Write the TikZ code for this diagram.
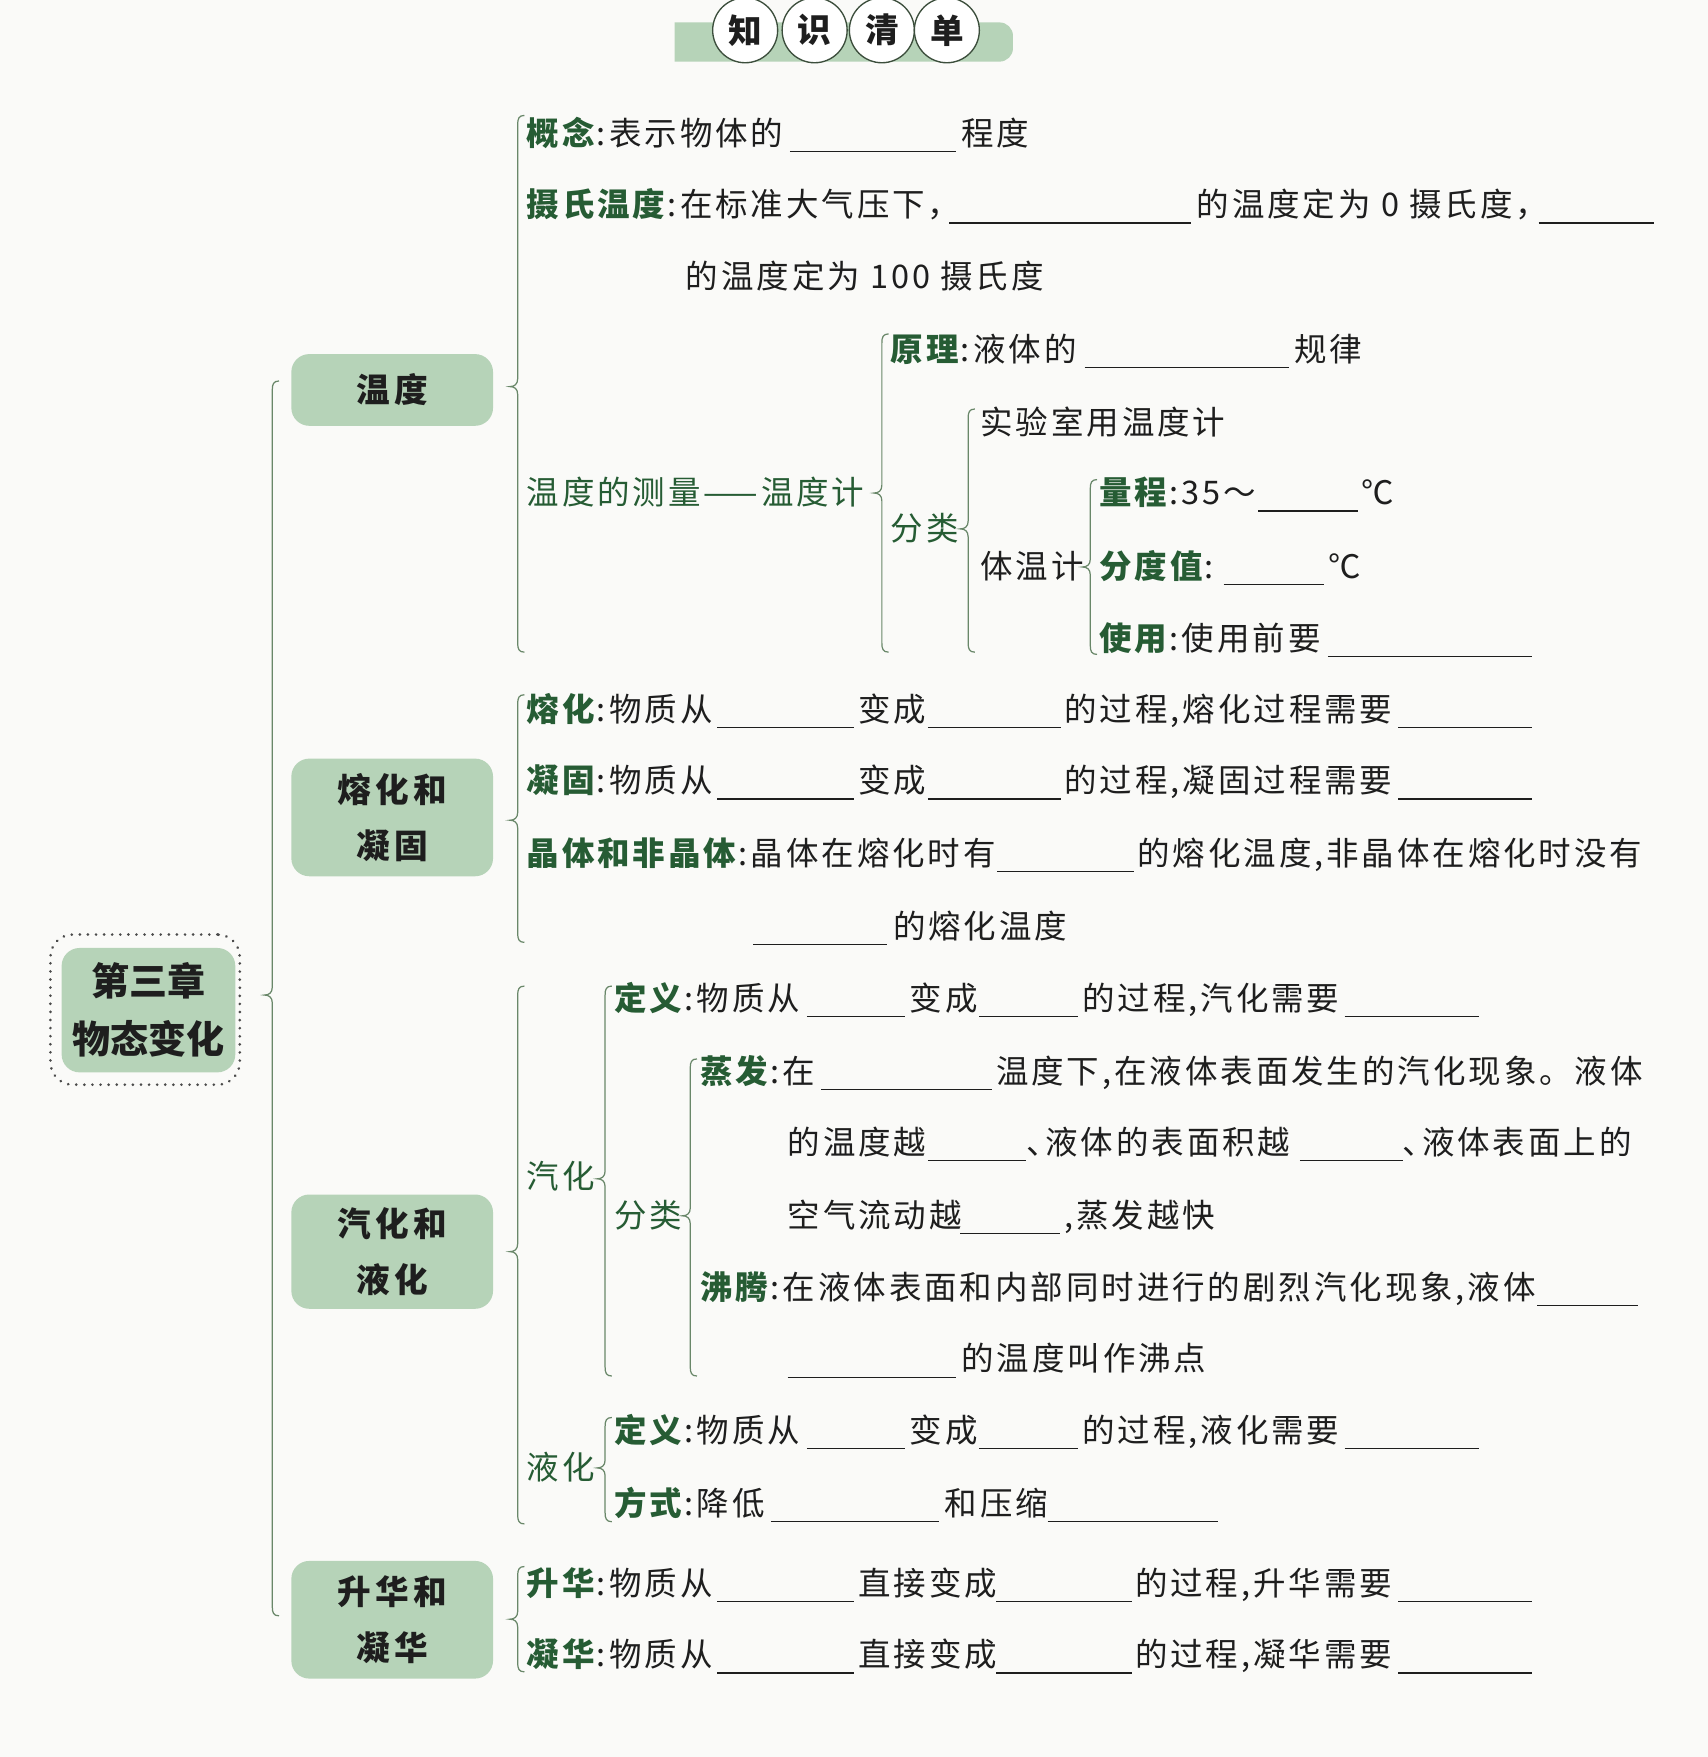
\documentclass[tikz,border=0pt]{standalone}
\usepackage{fontspec}
\newfontfamily\song{Noto Sans CJK SC}[LetterSpace=9]
\newfontfamily\songbx{Noto Sans CJK SC}[LetterSpace=12]
\newfontfamily\hei{Noto Sans CJK SC}[LetterSpace=9]
\newfontfamily\heiplain{Noto Sans CJK SC}
\definecolor{bgc}{RGB}{250,250,248}
\definecolor{boxg}{RGB}{182,211,184}
\definecolor{labg}{RGB}{38,92,52}
\definecolor{brc}{RGB}{105,135,105}
\definecolor{ink}{RGB}{30,30,30}
\definecolor{circd}{RGB}{60,78,60}
\newcommand\mlab[1]{{\hei\bfseries\color{labg}#1}\hspace{1pt}:\hspace{1.5pt}}
\newcommand\mglb[1]{{\hei\color{labg}#1}}
\newcommand\mtx[4]{\node[txt] (#1) at (#2,#3+10.5) {#4};}
\newcommand\mbk[3]{\draw[blankln] (#1,#3+16) -- (#2,#3+16);}
\newcommand\mbrace[4]{\draw[bracel] (#1+6,#2) .. controls (#1+1,#2) and (#1,#2+3) .. (#1,#2+8) -- (#1,#3-7) .. controls (#1,#3-2) and (#1-3,#3) .. (#1-7,#3) .. controls (#1-3,#3) and (#1,#3+2) .. (#1,#3+7) -- (#1,#4-8) .. controls (#1,#4-3) and (#1+1,#4) .. (#1+6,#4);}
\tikzset{
  txt/.style={anchor=base west, inner sep=0pt, outer sep=0pt, font={\song\fontsize{14.5}{17}\selectfont}, text=ink},
  blankln/.style={draw=ink, line width=0.5pt},
  bracel/.style={draw=brc, line width=0.55pt},
  lvbox/.style={fill=boxg, rounded corners=8pt, minimum width=90pt, inner sep=0pt, align=center, font={\songbx\bfseries\fontsize{15}{25}\selectfont}, text=ink},
  circnode/.style={circle, draw=circd, fill=white, line width=0.6pt, minimum size=29pt, inner sep=0pt, font={\heiplain\bfseries\fontsize{15}{15}\selectfont}, text=ink},
}
\begin{document}
\begin{tikzpicture}[x=0.5pt,y=-0.5pt]
\useasboundingbox (0,0) rectangle (1524,1568);
\fill[bgc] (0,0) rectangle (1524,1568);
% title
\fill[boxg] (602,55) -- (602,20) [rounded corners=6pt] -- (904,20) -- (904,55) [sharp corners] -- cycle;
\node[circnode] (t1) at (665,27) {知};
\node[circnode] (t2) at (727,27) {识};
\node[circnode] (t3) at (787,27) {清};
\node[circnode] (t4) at (845,27) {单};
% main node
\node[draw=ink!80, line width=1.3pt, line cap=round, dash pattern=on 0.01pt off 3.6pt, rounded corners=10pt, minimum width=84.5pt, minimum height=67pt, inner sep=0pt] (mainouter) at (129.5,901) {};
\node[fill=boxg, rounded corners=8pt, minimum width=77.5pt, minimum height=55.5pt, inner sep=0pt, align=center, font={\heiplain\bfseries\fontsize{17}{26}\selectfont}, text=ink] (main) at (132.5,901.5) {第三章\\物态变化};
\mbrace{243}{340}{888}{1442}
% level boxes
\node[lvbox, minimum height=32pt] (wd) at (350,348) {温度};
\node[lvbox, minimum height=52.5pt] (rh) at (350,729.5) {熔化和\\凝固};
\node[lvbox, minimum height=51pt] (qh) at (350,1117) {汽化和\\液化};
\node[lvbox, minimum height=52.5pt] (sh) at (350,1445.5) {升华和\\凝华};
% ---- 温度
\mbrace{462}{103}{345}{582}
\mtx{r1a}{470}{119}{\mlab{概念}表示物体的}
\mbk{705}{853}{119}
\mtx{r1b}{858}{119}{程度}
\mtx{r2a}{470}{183}{\mlab{摄氏温度}在标准大气压下，}
\mbk{847}{1063}{183}
\mtx{r2b}{1068}{183}{的温度定为 0 摄氏度，}
\mbk{1373}{1476}{183}
\mtx{r3}{612}{247}{的温度定为 100 摄氏度}
\mtx{r4}{470}{440}{\mglb{温度的测量——温度计}}
\mbrace{787}{298}{440}{582}
\mtx{r5a}{795}{312}{\mlab{原理}液体的}
\mbk{968}{1150}{312}
\mtx{r5b}{1155}{312}{规律}
\mtx{r6}{795}{472}{\mglb{分类}}
\mbrace{864}{365}{472}{582}
\mtx{r7}{875}{377}{实验室用温度计}
\mtx{r8}{875}{506}{体温计}
\mbrace{973}{428}{506}{584}
\mtx{r9a}{981}{440}{\mlab{量程}35～}
\mbk{1123}{1212}{440}
\mtx{r9b}{1215}{440}{℃}
\mtx{r10a}{981}{506}{\mlab{分度值}}
\mbk{1092}{1182}{506}
\mtx{r10b}{1186}{506}{℃}
\mtx{r11a}{981}{570}{\mlab{使用}使用前要}
\mbk{1185}{1367}{570}
% ---- 熔化和凝固
\mbrace{462}{620}{732}{841}
\mtx{r12a}{470}{633}{\mlab{熔化}物质从}
\mbk{640}{762}{633}
\mtx{r12b}{766}{633}{变成}
\mbk{828}{947}{633}
\mtx{r12c}{950}{633}{的过程,熔化过程需要}
\mbk{1248}{1367}{633}
\mtx{r13a}{470}{697}{\mlab{凝固}物质从}
\mbk{640}{762}{697}
\mtx{r13b}{766}{697}{变成}
\mbk{828}{947}{697}
\mtx{r13c}{950}{697}{的过程,凝固过程需要}
\mbk{1248}{1367}{697}
\mtx{r14a}{470}{762}{\mlab{晶体和非晶体}晶体在熔化时有}
\mbk{890}{1012}{762}
\mtx{r14b}{1015}{762}{的熔化温度,非晶体在熔化时没有}
\mbk{672}{792}{827}
\mtx{r15}{797}{827}{的熔化温度}
% ---- 汽化和液化
\mbrace{462}{880}{1117}{1360}
\mtx{r16}{470}{1050}{\mglb{汽化}}
\mbrace{540}{880}{1052}{1228}
\mtx{r17a}{548}{891}{\mlab{定义}物质从}
\mbk{720}{808}{891}
\mtx{r17b}{812}{891}{变成}
\mbk{874}{962}{891}
\mtx{r17c}{966}{891}{的过程,汽化需要}
\mbk{1200}{1320}{891}
\mtx{r18}{548}{1085}{\mglb{分类}}
\mbrace{616}{945}{1085}{1228}
\mtx{r19a}{625}{956}{\mlab{蒸发}在}
\mbk{733}{885}{956}
\mtx{r19b}{889}{956}{温度下,在液体表面发生的汽化现象。液体}
\mtx{r20a}{703}{1020}{的温度越}
\mbk{828}{916}{1020}
\mtx{r20b}{916}{1020}{、\hspace{-6pt}液体的表面积越}
\mbk{1160}{1252}{1020}
\mtx{r20c}{1252}{1020}{、\hspace{-6pt}液体表面上的}
\mtx{r21a}{703}{1085}{空气流动越}
\mbk{857}{946}{1085}
\mtx{r21b}{950}{1085}{,蒸发越快}
\mtx{r22a}{625}{1149}{\mlab{沸腾}在液体表面和内部同时进行的剧烈汽化现象,液体}
\mbk{1372}{1462}{1149}
\mbk{703}{853}{1213}
\mtx{r23}{858}{1213}{的温度叫作沸点}
\mtx{r24}{470}{1310}{\mglb{液化}}
\mbrace{540}{1265}{1310}{1358}
\mtx{r25a}{548}{1277}{\mlab{定义}物质从}
\mbk{720}{808}{1277}
\mtx{r25b}{812}{1277}{变成}
\mbk{874}{962}{1277}
\mtx{r25c}{966}{1277}{的过程,液化需要}
\mbk{1200}{1320}{1277}
\mtx{r26a}{548}{1342}{\mlab{方式}降低}
\mbk{688}{838}{1342}
\mtx{r26b}{843}{1342}{和压缩}
\mbk{935}{1087}{1342}
% ---- 升华和凝华
\mbrace{462}{1398}{1445}{1492}
\mtx{r27a}{470}{1413}{\mlab{升华}物质从}
\mbk{640}{762}{1413}
\mtx{r27b}{766}{1413}{直接变成}
\mbk{889}{1010}{1413}
\mtx{r27c}{1013}{1413}{的过程,升华需要}
\mbk{1248}{1367}{1413}
\mtx{r28a}{470}{1477}{\mlab{凝华}物质从}
\mbk{640}{762}{1477}
\mtx{r28b}{766}{1477}{直接变成}
\mbk{889}{1010}{1477}
\mtx{r28c}{1013}{1477}{的过程,凝华需要}
\mbk{1248}{1367}{1477}
\end{tikzpicture}
\end{document}
